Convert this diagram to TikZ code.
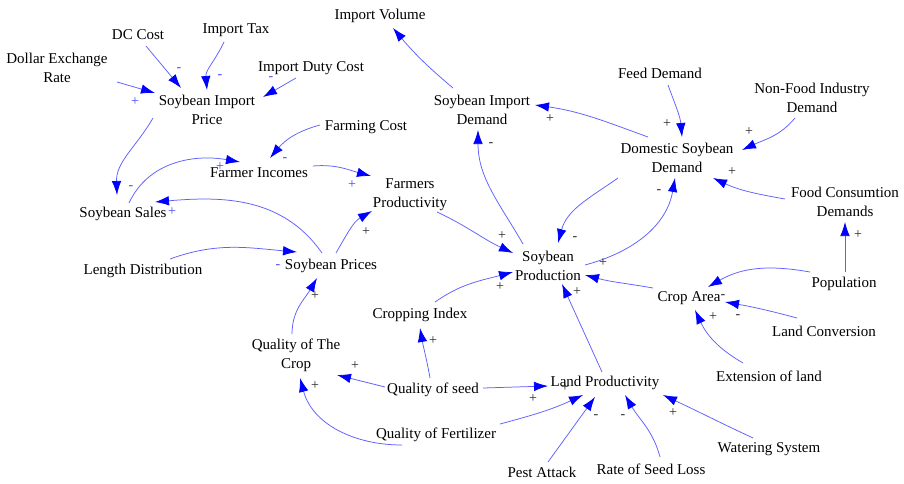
\documentclass[tikz,border=0pt]{standalone}
\usepackage{fontspec}
\setmainfont{Liberation Serif}
\usetikzlibrary{arrows.meta}
\definecolor{linkblue}{RGB}{95,95,255}
\definecolor{signblue}{RGB}{70,70,255}
\newcommand\varfont{\fontsize{15}{19}\selectfont}
\newcommand\signfont{\fontsize{14}{16}\selectfont}
\tikzset{
  vnode/.style={font=\varfont, align=center, inner sep=0pt, text=black},
  link/.style={draw=linkblue, line width=0.75pt, -{Latex[length=14pt,width=9.5pt,color=blue]}},
  bsign/.style={font=\signfont, inner sep=0pt, text=signblue},
  ksign/.style={font=\signfont, inner sep=0pt, text=black!85},
}
\begin{document}
\begin{tikzpicture}[x=1pt,y=1pt]
\useasboundingbox[fill=white] (0,0) rectangle (904,483);
% variables
\node[vnode] (vol)   at (380,467) {Import Volume};
\node[vnode] (dc)    at (138,448) {DC Cost};
\node[vnode] (tax)   at (236,453) {Import Tax};
\node[vnode] (der)   at (57,415)  {Dollar Exchange\\Rate};
\node[vnode] (duty)  at (311,415) {Import Duty Cost};
\node[vnode] (sip)   at (207,373) {Soybean Import\\Price};
\node[vnode] (feed)  at (660,410) {Feed Demand};
\node[vnode] (nfid)  at (812,385) {Non-Food Industry\\Demand};
\node[vnode] (sid)   at (482,373) {Soybean Import\\Demand};
\node[vnode] (fcost) at (366,356) {Farming Cost};
\node[vnode] (dsd)   at (677,325) {Domestic Soybean\\Demand};
\node[vnode] (finc)  at (259,310) {Farmer Incomes};
\node[vnode] (fprod) at (410,288) {Farmers\\Productivity};
\node[vnode] (fcd)   at (845,281) {Food Consumtion\\Demands};
\node[vnode] (sales) at (123,269) {Soybean Sales};
\node[vnode] (len)   at (143,212) {Length Distribution};
\node[vnode] (price) at (331,217) {Soybean Prices};
\node[vnode] (prod)  at (548,217) {Soybean\\Production};
\node[vnode] (pop)   at (844,199) {Population};
\node[vnode] (area)  at (689,185) {Crop Area};
\node[vnode] (lconv) at (824,152) {Land Conversion};
\node[vnode] (crop)  at (420,168) {Cropping Index};
\node[vnode] (qcrop) at (296,128) {Quality of The\\Crop};
\node[vnode] (qseed) at (433,93)  {Quality of seed};
\node[vnode] (lprod) at (605,100) {Land Productivity};
\node[vnode] (ext)   at (769,107) {Extension of land};
\node[vnode] (qfert) at (436,48)  {Quality of Fertilizer};
\node[vnode] (water) at (769,34)  {Watering System};
\node[vnode] (pest)  at (542,11)  {Pest Attack};
\node[vnode] (rsl)   at (651,14)  {Rate of Seed Loss};
% connectors
\draw[link] ([shift={(-29,22)}]sid.center) to[out=140,in=-50] ([shift={(13,-12)}]vol.center);
\draw[link] ([shift={(8,-11)}]dc.center) -- ([shift={(-26,22)}]sip.center);
\draw[link] ([shift={(-12,-12)}]tax.center) to[out=-115,in=95] ([shift={(0,20)}]sip.center);
\draw[link] ([shift={(60,-14)}]der.center) -- ([shift={(-52,17)}]sip.center);
\draw[link] ([shift={(-15,-10)}]duty.center) -- ([shift={(56,13)}]sip.center);
\draw[link] ([shift={(-54,-8)}]sip.center) to[out=-120,in=92] ([shift={(-6,19)}]sales.center);
\draw[link] ([shift={(6,11)}]sales.center) to[out=65,in=170] ([shift={(-19,11)}]finc.center);
\draw[link] ([shift={(-46,2)}]fcost.center) to[out=195,in=50] ([shift={(11,15)}]finc.center);
\draw[link] ([shift={(54,7)}]finc.center) to[out=5,in=165] ([shift={(-39,19)}]fprod.center);
\draw[link] ([shift={(-9,13)}]price.center) to[out=125,in=5] ([shift={(32,12)}]sales.center);
\draw[link] ([shift={(27,12)}]len.center) to[out=20,in=175] ([shift={(-34,14)}]price.center);
\draw[link] ([shift={(5,13)}]price.center) to[out=60,in=-150] ([shift={(-38,-16)}]fprod.center);
\draw[link] ([shift={(-4,21)}]qcrop.center) to[out=90,in=-120] ([shift={(-14,-12)}]price.center);
\draw[link] ([shift={(27,-17)}]fprod.center) to[out=-25,in=155] ([shift={(-35,13)}]prod.center);
\draw[link] ([shift={(-25,22)}]prod.center) to[out=120,in=-90] ([shift={(-4,-20)}]sid.center);
\draw[link] ([shift={(-29,21)}]dsd.center) to[out=160,in=-8] ([shift={(53,5)}]sid.center);
\draw[link] ([shift={(8,-12)}]feed.center) to[out=-70,in=95] ([shift={(5,21)}]dsd.center);
\draw[link] ([shift={(-17,-20)}]nfid.center) to[out=-130,in=25] ([shift={(65,8)}]dsd.center);
\draw[link] ([shift={(-60,3)}]fcd.center) to[out=170,in=-25] ([shift={(36,-20)}]dsd.center);
\draw[link] ([shift={(-59,-20)}]dsd.center) to[out=-145,in=75] ([shift={(10,23)}]prod.center);
\draw[link] ([shift={(37,1)}]prod.center) to[out=15,in=-100] ([shift={(-2,-20)}]dsd.center);
\draw[link] ([shift={(15,13)}]crop.center) to[out=35,in=195] ([shift={(-35,-6)}]prod.center);
\draw[link] ([shift={(-3,11)}]lprod.center) -- ([shift={(14,-18)}]prod.center);
\draw[link] ([shift={(-36,10)}]area.center) to[out=170,in=-15] ([shift={(37,-9)}]prod.center);
\draw[link] ([shift={(-34,12)}]pop.center) to[out=170,in=30] ([shift={(19,11)}]area.center);
\draw[link] ([shift={(1,12)}]pop.center) -- ([shift={(0,-20)}]fcd.center);
\draw[link] ([shift={(-27,13)}]lconv.center) to[out=165,in=-10] ([shift={(36,-4)}]area.center);
\draw[link] ([shift={(-26,13)}]ext.center) to[out=150,in=-65] ([shift={(6,-12)}]area.center);
\draw[link] ([shift={(-3,12)}]qseed.center) to[out=100,in=-80] ([shift={(0,-13)}]crop.center);
\draw[link] ([shift={(-48,3)}]qseed.center) -- ([shift={(41,-20)}]qcrop.center);
\draw[link] ([shift={(50,2)}]qseed.center) -- ([shift={(-57,-3)}]lprod.center);
\draw[link] ([shift={(-34,-10)}]qfert.center) to[out=180,in=-75] ([shift={(4,-23)}]qcrop.center);
\draw[link] ([shift={(64,11)}]qfert.center) to[out=15,in=-155] ([shift={(-22,-12)}]lprod.center);
\draw[link] ([shift={(6,10)}]pest.center) -- ([shift={(-10,-14)}]lprod.center);
\draw[link] ([shift={(9,12)}]rsl.center) to[out=105,in=-60] ([shift={(20,-12)}]lprod.center);
\draw[link] ([shift={(-16,11)}]water.center) to[out=155,in=-25] ([shift={(58,-12)}]lprod.center);
% polarity signs (blue)
\node[bsign] (s1)  at (135,381) {+};
\node[bsign] (s2)  at (179,413) {-};
\node[bsign] (s3)  at (220,406) {-};
\node[bsign] (s4)  at (271,404) {-};
\node[bsign] (s5)  at (131,295) {-};
\node[bsign] (s6)  at (220,316) {+};
\node[bsign] (s7)  at (285,323) {-};
\node[bsign] (s8)  at (352,298) {+};
\node[bsign] (s9)  at (172,271) {+};
\node[bsign] (s10) at (278,216) {-};
% polarity signs (black)
\node[ksign] (s11) at (366,251) {+};
\node[ksign] (s12) at (315,187) {+};
\node[ksign] (s13) at (502,247) {+};
\node[ksign] (s14) at (575,244) {-};
\node[ksign] (s15) at (603,220) {+};
\node[ksign] (s16) at (500,196) {+};
\node[ksign] (s17) at (577,191) {+};
\node[ksign] (s18) at (491,338) {-};
\node[ksign] (s19) at (550,364) {+};
\node[ksign] (s20) at (667,359) {+};
\node[ksign] (s21) at (749,351) {+};
\node[ksign] (s22) at (732,311) {+};
\node[ksign] (s23) at (659,291) {-};
\node[ksign] (s24) at (858,248) {+};
\node[ksign] (s25) at (723,186) {-};
\node[ksign] (s26) at (713,166) {+};
\node[ksign] (s27) at (738,166) {-};
\node[ksign] (s28) at (433,142) {+};
\node[ksign] (s29) at (355,117) {+};
\node[ksign] (s30) at (315,97)  {+};
\node[ksign] (s31) at (533,84)  {+};
\node[ksign] (s32) at (565,95)  {+};
\node[ksign] (s33) at (596,66)  {-};
\node[ksign] (s34) at (623,66)  {-};
\node[ksign] (s35) at (673,70)  {+};
\end{tikzpicture}
\end{document}
